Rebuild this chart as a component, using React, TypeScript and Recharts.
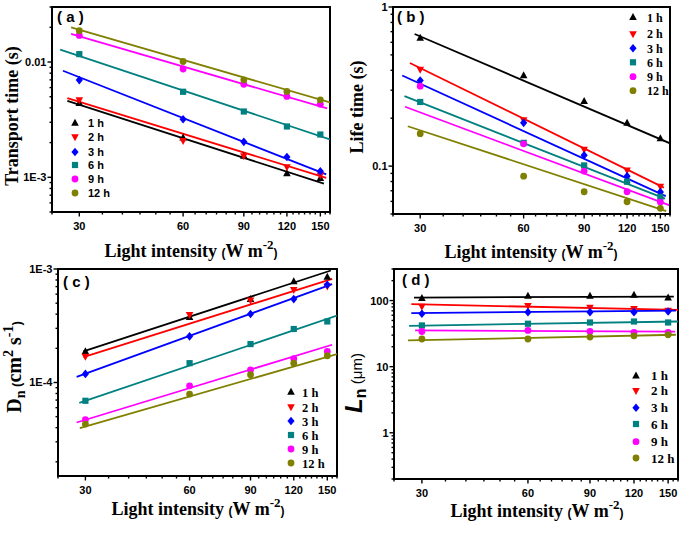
import React from 'react';
import { ComposedChart, XAxis, YAxis, Line, Scatter, ReferenceArea } from 'recharts';

// ---------- shared ----------
const X_VALUES = [30, 60, 90, 120, 150];
const SERIES_NAMES = ['1 h', '2 h', '3 h', '6 h', '9 h', '12 h'];
const SERIES_COLORS = ['#000000', '#ff0000', '#0000ff', '#008080', '#ff00ff', '#808000'];
const SERIES_SHAPES = ['triUp', 'triDown', 'diamond', 'square', 'circle', 'circle'];

const X_DOMAIN = [25, 160];
const X_MAJOR_TICKS = [30, 60, 90, 120, 150];
const X_MAJOR_LABELS = ['30', '60', '90', '120', '150'];
const X_MINOR_TICKS = [25, 35, 40, 45, 50, 55, 65, 70, 75, 80, 85, 95, 100, 105, 110, 115, 125, 130, 135, 140, 145, 155, 160];

// ---------- (a) Transport time ----------
const A_VALUES = [
  [0.0044, 0.00221, 0.00153, 0.00108, 0.00098],
  [0.00467, 0.00207, 0.00153, 0.00123, 0.00104],
  [0.00697, 0.00319, 0.00203, 0.0015, 0.00113],
  [0.0117, 0.00552, 0.00372, 0.00276, 0.00235],
  [0.017, 0.0087, 0.0064, 0.00503, 0.00431],
  [0.0187, 0.0101, 0.007, 0.00556, 0.0047],
];
const A_FIT_X = [[27.7, 153.6], [27.7, 156], [26.9, 156], [26.4, 160], [28.4, 157], [28.4, 160]];
const A_FIT_Y = [[0.00461, 0.00088], [0.00486, 0.00099], [0.0084, 0.00106], [0.0128, 0.00213], [0.0175, 0.00396], [0.02, 0.00446]];
const A_Y_DOMAIN = [0.0005, 0.03];
const A_Y_MAJOR = [0.001, 0.01];
const A_Y_MAJOR_LABELS = ['1E-3', '0.01'];
const A_Y_MINOR = [0.0005, 0.0006, 0.0007, 0.0008, 0.0009, 0.002, 0.003, 0.004, 0.005, 0.006, 0.007, 0.008, 0.009, 0.02, 0.03];

// ---------- (b) Life time ----------
const B_VALUES = [
  [0.639, 0.372, 0.256, 0.187, 0.149],
  [0.404, 0.195, 0.127, 0.094, 0.0743],
  [0.345, 0.187, 0.117, 0.0865, 0.0687],
  [0.253, 0.14, 0.101, 0.0798, 0.064],
  [0.318, 0.138, 0.093, 0.069, 0.0594],
  [0.16, 0.0865, 0.069, 0.0597, 0.0543],
];
const B_FIT_X = [[28.9, 160], [28.0, 153.6], [26.6, 155.5], [27.0, 154.8], [27.1, 159], [27.6, 156]];
const B_FIT_Y = [[0.677, 0.139], [0.445, 0.0732], [0.371, 0.0648], [0.275, 0.0624], [0.236, 0.0569], [0.178, 0.0522]];
const B_Y_DOMAIN = [0.05, 1];
const B_Y_MAJOR = [0.1, 1];
const B_Y_MAJOR_LABELS = ['0.1', '1'];
const B_Y_MINOR = [0.05, 0.06, 0.07, 0.08, 0.09, 0.2, 0.3, 0.4, 0.5, 0.6, 0.7, 0.8, 0.9];

// ---------- (c) Dn ----------
const C_VALUES = [
  [1.88e-4, 3.77e-4, 5.43e-4, 7.78e-4, 8.5e-4],
  [1.69e-4, 3.95e-4, 5.29e-4, 6.57e-4, 7.03e-4],
  [1.19e-4, 2.55e-4, 4.01e-4, 5.43e-4, 7.27e-4],
  [6.9e-5, 1.48e-4, 2.18e-4, 2.96e-4, 3.45e-4],
  [4.7e-5, 9.35e-5, 1.29e-4, 1.62e-4, 1.88e-4],
  [4.3e-5, 7.9e-5, 1.17e-4, 1.48e-4, 1.72e-4],
];
const C_FIT_X = [[29.6, 153.6], [29.6, 155], [28.3, 154.9], [28.8, 160], [28.3, 154.9], [28.9, 160]];
const C_FIT_Y = [[1.88e-4, 9.7e-4], [1.67e-4, 8.2e-4], [1.12e-4, 7.37e-4], [6.6e-5, 3.88e-4], [4.44e-5, 2.15e-4], [3.96e-5, 1.78e-4]];
const C_Y_DOMAIN = [1.5e-5, 1e-3];
const C_Y_MAJOR = [1e-4, 1e-3];
const C_Y_MAJOR_LABELS = ['1E-4', '1E-3'];
const C_Y_MINOR = [2e-5, 3e-5, 4e-5, 5e-5, 6e-5, 7e-5, 8e-5, 9e-5, 2e-4, 3e-4, 4e-4, 5e-4, 6e-4, 7e-4, 8e-4, 9e-4];

// ---------- (d) Ln ----------
const D_VALUES = [
  [108.6, 117.8, 117.8, 121.9, 110.9],
  [81.2, 83.2, 78.5, 75, 70.6],
  [63, 66.8, 66.8, 66.8, 68.3],
  [42, 44.6, 46.6, 48.2, 46.6],
  [34, 35.3, 34, 32.9, 32.9],
  [26.2, 26.2, 28, 29.3, 30.4],
];
const D_FIT_X = [[28.5, 155.7], [28.0, 160], [28.0, 157.8], [27.6, 160], [28.7, 157], [27.4, 157.8]];
const D_FIT_Y = [[110.9, 114.9], [88, 72.4], [64.6, 70.6], [41.5, 48.2], [35.3, 34], [24.9, 30.4]];
const D_Y_DOMAIN = [0.2, 300];
const D_Y_MAJOR = [1, 10, 100];
const D_Y_MAJOR_LABELS = ['1', '10', '100'];
const D_Y_MINOR = [0.2, 0.3, 0.4, 0.5, 0.6, 0.7, 0.8, 0.9, 2, 3, 4, 5, 6, 7, 8, 9, 20, 30, 40, 50, 60, 70, 80, 90, 200, 300];

const TICK_FONT = '"Liberation Sans", Arial, sans-serif';
const SERIF = '"Liberation Serif", "Times New Roman", serif';

function majorIndex(v: number, list: number[]) {
  return list.findIndex((m) => Math.abs(m - v) / m < 1e-6);
}

function Marker({ cx, cy, shape, color }: any) {
  if (cx == null || cy == null) return null;
  switch (shape) {
    case 'triUp':
      return <polygon points={`${cx},${cy - 4.2} ${cx + 3.8},${cy + 2.8} ${cx - 3.8},${cy + 2.8}`} fill={color} />;
    case 'triDown':
      return <polygon points={`${cx},${cy + 4.2} ${cx + 3.8},${cy - 2.8} ${cx - 3.8},${cy - 2.8}`} fill={color} />;
    case 'diamond':
      return <polygon points={`${cx},${cy - 4.3} ${cx + 3.6},${cy} ${cx},${cy + 4.3} ${cx - 3.6},${cy}`} fill={color} />;
    case 'square':
      return <rect x={cx - 3.1} y={cy - 3.1} width={6.2} height={6.2} fill={color} />;
    default:
      return <circle cx={cx} cy={cy} r={3.4} fill={color} />;
  }
}

// x position comes from the axis scale; the row sits on the plot's bottom edge
function makeXTick(axisY: number) {
  return (p: any) => {
    const v = p.payload.value;
    const mi = majorIndex(v, X_MAJOR_TICKS);
    const len = mi >= 0 ? 4.5 : 2.5;
    return (
      <g>
        <line x1={p.x} x2={p.x} y1={axisY} y2={axisY + len} stroke="#000" strokeWidth={1.4} />
        {mi >= 0 && (
          <text x={p.x} y={axisY + 18} textAnchor="middle" fontFamily={TICK_FONT} fontWeight="bold" fontSize={11} fill="#000">
            {X_MAJOR_LABELS[mi]}
          </text>
        )}
      </g>
    );
  };
}

// y position comes from the axis scale; the column sits on the plot's left edge
function makeYTick(axisX: number, major: number[], labels: string[]) {
  return (p: any) => {
    const v = p.payload.value;
    const mi = majorIndex(v, major);
    const len = mi >= 0 ? 4.5 : 2.5;
    return (
      <g>
        <line x1={axisX - len} x2={axisX} y1={p.y} y2={p.y} stroke="#000" strokeWidth={1.4} />
        {mi >= 0 && (
          <text x={axisX - 5.5} y={p.y + 4} textAnchor="end" fontFamily={TICK_FONT} fontWeight="bold" fontSize={11} fill="#000">
            {labels[mi]}
          </text>
        )}
      </g>
    );
  };
}

function Panel({ left, top, width, height, margin, values, fitX, fitY, yDomain, yMajor, yMajorLabels, yMinor }: any) {
  const xTicks = [...X_MINOR_TICKS, ...X_MAJOR_TICKS].sort((a, b) => a - b);
  const yTicks = [...yMinor, ...yMajor].sort((a: number, b: number) => a - b);
  const axisY = height - margin.bottom - 1;
  const axisX = margin.left + 1;
  return (
    <div style={{ position: 'absolute', left, top, width, height }}>
      <ComposedChart width={width} height={height} margin={margin}>
        <XAxis
          type="number"
          dataKey="x"
          scale="log"
          domain={X_DOMAIN}
          allowDataOverflow
          ticks={xTicks}
          interval={0}
          height={1}
          axisLine={false}
          tickLine={false}
          tick={makeXTick(axisY)}
        />
        <YAxis
          type="number"
          dataKey="y"
          scale="log"
          domain={yDomain}
          allowDataOverflow
          ticks={yTicks}
          interval={0}
          width={1}
          axisLine={false}
          tickLine={false}
          tick={makeYTick(axisX, yMajor, yMajorLabels)}
        />
        {SERIES_NAMES.map((name, i) => (
          <Line
            key={'fit' + name}
            data={fitX[i].map((x: number, j: number) => ({ x, y: fitY[i][j] }))}
            dataKey="y"
            type="linear"
            stroke={SERIES_COLORS[i]}
            strokeWidth={1.8}
            dot={false}
            activeDot={false}
            isAnimationActive={false}
          />
        ))}
        {SERIES_NAMES.map((name, i) => (
          <Scatter
            key={'pts' + name}
            name={name}
            data={values[i].map((v: number, j: number) => ({ x: X_VALUES[j], y: v }))}
            fill={SERIES_COLORS[i]}
            isAnimationActive={false}
            shape={(p: any) => <Marker cx={p.cx} cy={p.cy} shape={SERIES_SHAPES[i]} color={SERIES_COLORS[i]} />}
          />
        ))}
        <ReferenceArea
          x1={X_DOMAIN[0]}
          x2={X_DOMAIN[1]}
          y1={yDomain[0]}
          y2={yDomain[1]}
          fill="none"
          fillOpacity={0}
          stroke="#000"
          strokeWidth={2}
          ifOverflow="visible"
        />
      </ComposedChart>
    </div>
  );
}

function Legend({ x, tx, rows, font, size }: any) {
  return (
    <g>
      {SERIES_NAMES.map((name, i) => (
        <g key={name}>
          <Marker cx={x} cy={rows[i]} shape={SERIES_SHAPES[i]} color={SERIES_COLORS[i]} />
          <text x={tx} y={rows[i] + size * 0.36} fontFamily={font} fontWeight="bold" fontSize={size} fill="#000">
            {name}
          </text>
        </g>
      ))}
    </g>
  );
}

function XTitle({ x, y }: any) {
  return (
    <text x={x} y={y} textAnchor="middle" fontFamily={SERIF} fontWeight="bold" fontSize={18} fill="#000">
      Light intensity <tspan fontSize={12} fontFamily={TICK_FONT}>(</tspan>
      <tspan>W m</tspan>
      <tspan fontSize={13} dy={-8}>-2</tspan>
      <tspan fontSize={12} dy={8} fontFamily={TICK_FONT}>)</tspan>
    </text>
  );
}

export default function App() {
  return (
    <div style={{ position: 'absolute', left: 0, top: 0, width: 685, height: 533, background: '#fff' }}>
      <Panel
        left={0}
        top={0}
        width={342}
        height={250}
        margin={{ top: 7, left: 51, right: 12, bottom: 37 }}
        values={A_VALUES}
        fitX={A_FIT_X}
        fitY={A_FIT_Y}
        yDomain={A_Y_DOMAIN}
        yMajor={A_Y_MAJOR}
        yMajorLabels={A_Y_MAJOR_LABELS}
        yMinor={A_Y_MINOR}
      />
      <Panel
        left={342}
        top={0}
        width={343}
        height={250}
        margin={{ top: 7, left: 50, right: 15, bottom: 35 }}
        values={B_VALUES}
        fitX={B_FIT_X}
        fitY={B_FIT_Y}
        yDomain={B_Y_DOMAIN}
        yMajor={B_Y_MAJOR}
        yMajorLabels={B_Y_MAJOR_LABELS}
        yMinor={B_Y_MINOR}
      />
      <Panel
        left={0}
        top={250}
        width={342}
        height={260}
        margin={{ top: 19, left: 57, right: 5, bottom: 33 }}
        values={C_VALUES}
        fitX={C_FIT_X}
        fitY={C_FIT_Y}
        yDomain={C_Y_DOMAIN}
        yMajor={C_Y_MAJOR}
        yMajorLabels={C_Y_MAJOR_LABELS}
        yMinor={C_Y_MINOR}
      />
      <Panel
        left={342}
        top={250}
        width={343}
        height={260}
        margin={{ top: 19, left: 51, right: 7, bottom: 30 }}
        values={D_VALUES}
        fitX={D_FIT_X}
        fitY={D_FIT_Y}
        yDomain={D_Y_DOMAIN}
        yMajor={D_Y_MAJOR}
        yMajorLabels={D_Y_MAJOR_LABELS}
        yMinor={D_Y_MINOR}
      />
      <svg width={685} height={533} style={{ position: 'absolute', left: 0, top: 0, pointerEvents: 'none' }}>
        {/* panel tags */}
        <text x={57} y={22} fontFamily={TICK_FONT} fontWeight="bold" fontSize={15}>( a )</text>
        <text x={397} y={22} fontFamily={TICK_FONT} fontWeight="bold" fontSize={15}>( b )</text>
        <text x={63} y={287} fontFamily={TICK_FONT} fontWeight="bold" fontSize={15}>( c )</text>
        <text x={402} y={285} fontFamily={TICK_FONT} fontWeight="bold" fontSize={15}>( d )</text>

        {/* x titles */}
        <XTitle x={191} y={257} />
        <XTitle x={531} y={258} />
        <XTitle x={198} y={515} />
        <XTitle x={537} y={517} />

        {/* y titles */}
        <text transform="translate(18,116) rotate(-90)" textAnchor="middle" fontFamily={SERIF} fontWeight="bold" fontSize={18}>
          Transport time (s)
        </text>
        <text transform="translate(363,107) rotate(-90)" textAnchor="middle" fontFamily={SERIF} fontWeight="bold" fontSize={18}>
          Life time (s)
        </text>
        <text transform="translate(21,367) rotate(-90)" textAnchor="middle" fontFamily={SERIF} fontWeight="bold" fontSize={20}>
          D<tspan fontSize={14} dy={4}>n</tspan>
          <tspan fontSize={13} dy={-4} fontFamily={TICK_FONT}> (</tspan>
          <tspan>cm</tspan>
          <tspan fontSize={14} dy={-8}>2</tspan>
          <tspan dy={8}> s</tspan>
          <tspan fontSize={14} dy={-8}>-1</tspan>
          <tspan fontSize={13} dy={8} fontFamily={TICK_FONT}>)</tspan>
        </text>
        <text transform="translate(362,383) rotate(-90)" textAnchor="middle" fontFamily={TICK_FONT} fontWeight="bold" fontSize={24}>
          <tspan fontStyle="italic">L</tspan>
          <tspan fontSize={16} dy={4}>n</tspan>
          <tspan fontSize={15} fontWeight="normal" dy={-4}> (μm)</tspan>
        </text>

        {/* legends */}
        <Legend x={75} tx={88} rows={[123, 137, 152, 165, 179, 193]} font={TICK_FONT} size={11} />
        <Legend x={633} tx={647} rows={[17.3, 34, 48.3, 62.3, 76.7, 90.7]} font={SERIF} size={12} />
        <Legend x={291} tx={302} rows={[392, 407, 421, 435, 449, 463]} font={SERIF} size={12.5} />
        <Legend x={636} tx={651} rows={[375.7, 390.7, 407.7, 424, 441.7, 458]} font={SERIF} size={13} />
      </svg>
    </div>
  );
}
